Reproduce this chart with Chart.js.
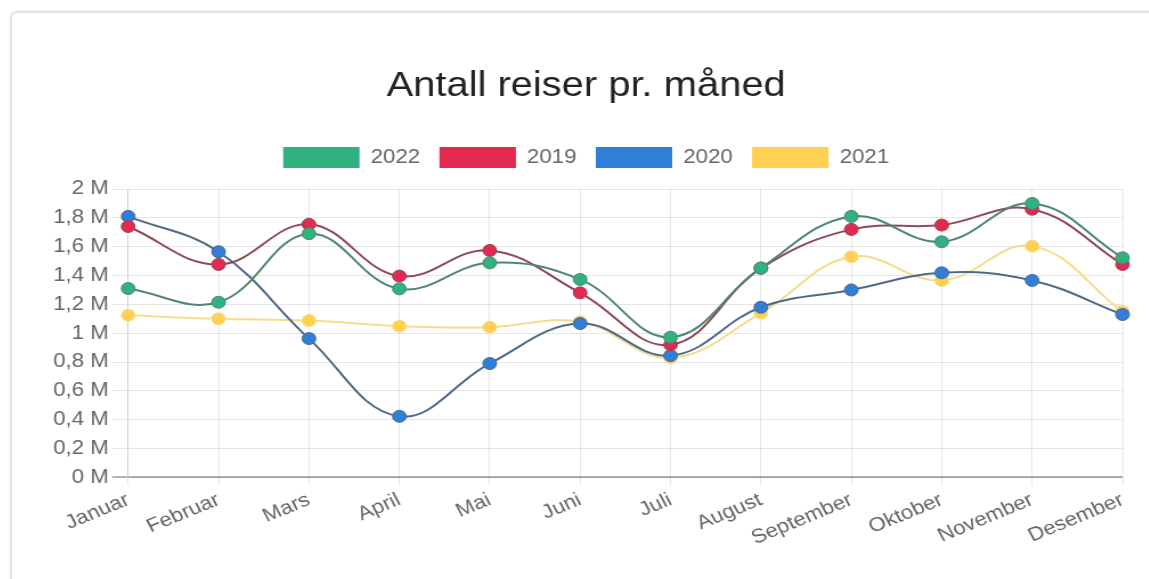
<!DOCTYPE html>
<html>
<head>
<meta charset="utf-8">
<title>Antall reiser pr. måned</title>
<script src="https://cdn.jsdelivr.net/npm/chart.js@4.4.1/dist/chart.umd.min.js"></script>
<style>
    html, body {
        margin: 0;
        padding: 0;
        background: #fff;
        overflow: hidden;
        width: 1149px;
        height: 579px;
    }
    .card {
        position: absolute;
        left: 10px;
        top: 11px;
        width: 1180px;
        height: 620px;
        border: 2px solid #e4e4e4;
        border-radius: 7px;
        box-shadow: 0 0 3px rgba(0, 0, 0, 0.08);
        background: #fff;
    }
    /* chart is drawn narrower and stretched sideways to fill the card */
    .chart-box {
        position: absolute;
        left: 11px;
        top: 13px;
        width: 1008px;
        height: 566px;
        transform: scaleX(1.14);
        transform-origin: left top;
    }
</style>
</head>
<body>
<div class="card"></div>
<div class="chart-box">
    <canvas id="tripsChart"></canvas>
</div>

<script>
// Months on the x axis
const months = ['Januar', 'Februar', 'Mars', 'April', 'Mai', 'Juni', 'Juli',
    'August', 'September', 'Oktober', 'November', 'Desember'];

// Trips per month, one array per year
const trips2022 = [1310000, 1215000, 1690000, 1308000, 1488000, 1373000, 972000, 1453000, 1810000, 1634000, 1900000, 1523000];
const trips2019 = [1740000, 1477000, 1755000, 1396000, 1574000, 1280000, 920000, 1450000, 1720000, 1750000, 1860000, 1477000];
const trips2020 = [1810000, 1565000, 963000, 424000, 790000, 1067000, 845000, 1180000, 1300000, 1419000, 1366000, 1130000];
const trips2021 = [1125000, 1100000, 1088000, 1049000, 1042000, 1080000, 830000, 1140000, 1530000, 1366000, 1604000, 1150000];

// Y axis ticks, 0 to 2 M in steps of 0.2 M
const yMin = 0;
const yMax = 2000000;
const yStep = 200000;

const fontFamily = '"Liberation Sans", Arial, Helvetica, sans-serif';

function series(label, data, fill, stroke) {
    return {
        label: label,
        data: data,
        backgroundColor: fill,
        borderColor: stroke,
        borderWidth: 2,
        tension: 0.4,
        pointRadius: 6,
        pointHoverRadius: 7,
        pointBackgroundColor: fill,
        pointBorderColor: stroke,
        pointBorderWidth: 1,
        fill: false
    };
}

function formatMillions(value) {
    const m = Math.round(value / 100000) / 10;
    return m.toString().replace('.', ',') + ' M';
}

// Legend boxes are plain filled blocks, no outline
function legendLabels(chart) {
    return Chart.defaults.plugins.legend.labels.generateLabels(chart).map(item => ({
        ...item,
        strokeStyle: item.fillStyle,
        lineWidth: 0
    }));
}

// Extra space between the legend and the plot
const legendGap = {
    id: 'legendGap',
    beforeInit(chart) {
        const fit = chart.legend.fit;
        chart.legend.fit = function () {
            fit.call(this);
            this.height += 11;
        };
    }
};

const ctx = document.getElementById('tripsChart').getContext('2d');

new Chart(ctx, {
    type: 'line',
    data: {
        labels: months,
        datasets: [
            series('2022', trips2022, '#2fb27f', '#4f8670'),
            series('2019', trips2019, '#e2294f', '#8e4a56'),
            series('2020', trips2020, '#2f7ed8', '#4e6a86'),
            series('2021', trips2021, '#ffd052', '#f4dc8c')
        ]
    },
    plugins: [legendGap],
    options: {
        responsive: true,
        maintainAspectRatio: false,
        animation: false,
        layout: {
            padding: { top: 42, right: 33, bottom: 26, left: 34 }
        },
        plugins: {
            title: {
                display: true,
                text: 'Antall reiser pr. måned',
                color: '#222',
                font: { family: fontFamily, size: 35, weight: 'normal' },
                padding: { top: 10, bottom: 23 }
            },
            legend: {
                labels: {
                    boxWidth: 67,
                    boxHeight: 21,
                    color: '#666',
                    padding: 17,
                    font: { family: fontFamily, size: 19.5 },
                    generateLabels: legendLabels
                }
            },
            tooltip: {
                callbacks: {
                    label: (context) => `${context.dataset.label}: ${formatMillions(context.raw)}`
                }
            }
        },
        scales: {
            x: {
                grid: {
                    color: 'rgba(0,0,0,0.1)',
                    tickLength: 8
                },
                border: { color: 'rgba(0,0,0,0.1)' },
                ticks: {
                    color: '#666',
                    minRotation: 25,
                    maxRotation: 25,
                    font: { family: fontFamily, size: 19.5 }
                }
            },
            y: {
                min: yMin,
                max: yMax,
                grid: {
                    color: (c) => c.tick && c.tick.value === 0 ? 'rgba(0,0,0,0.3)' : 'rgba(0,0,0,0.1)',
                    lineWidth: (c) => c.tick && c.tick.value === 0 ? 2 : 1,
                    tickLength: 14
                },
                border: { color: 'rgba(0,0,0,0.1)' },
                ticks: {
                    stepSize: yStep,
                    color: '#666',
                    padding: 3,
                    font: { family: fontFamily, size: 19.5 },
                    callback: (value) => formatMillions(value)
                }
            }
        }
    }
});
</script>
</body>
</html>
